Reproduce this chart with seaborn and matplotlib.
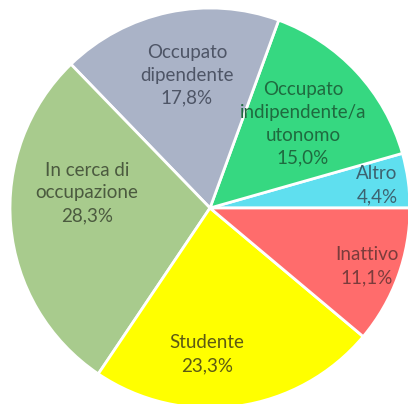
import matplotlib
matplotlib.use("Agg")
import matplotlib.pyplot as plt
import seaborn as sns

# Data
categories = ["Altro", "Occupato\nindipendente/a\nutonomo", "Occupato\ndipendente",
              "In cerca di\noccupazione", "Studente", "Inattivo"]
shares = [4.4, 15.0, 17.8, 28.3, 23.3, 11.1]
pct_labels = ["4,4%", "15,0%", "17,8%", "28,3%", "23,3%", "11,1%"]

colors = ["#5fdfef", "#36d881", "#aab3c7", "#a8cb8d", "#ffff00", "#ff6c6c"]
text_colors = ["#3d6270", "#1f6a3f", "#4e5566", "#4b5a3f", "#5c5a14", "#7a3c3c"]
# label centres in pie units (radius = 1)
label_pos = [(0.835, 0.115), (0.465, 0.42), (-0.115, 0.665),
             (-0.615, 0.075), (-0.015, -0.73), (0.785, -0.29)]

sns.set_theme(style="white")
plt.rcParams["font.family"] = ["Lato", "DejaVu Sans"]

fig = plt.figure(figsize=(4.08, 4.04), dpi=100)
ax = fig.add_axes([10 / 408, -4 / 404, 400 / 408, 400 / 404])
ax.pie(shares, colors=colors, startangle=0, counterclock=True, radius=1,
       wedgeprops=dict(edgecolor="white", linewidth=2))

for cat, pct, (x, y), tc in zip(categories, pct_labels, label_pos, text_colors):
    ax.text(x, y, f"{cat}\n{pct}", ha="center", va="center", fontsize=13.5,
            color=tc, linespacing=1.42)

ax.set_xlim(-1, 1)
ax.set_ylim(-1, 1)
ax.set_aspect("equal")
ax.axis("off")

fig.savefig("out.png", dpi=100)
